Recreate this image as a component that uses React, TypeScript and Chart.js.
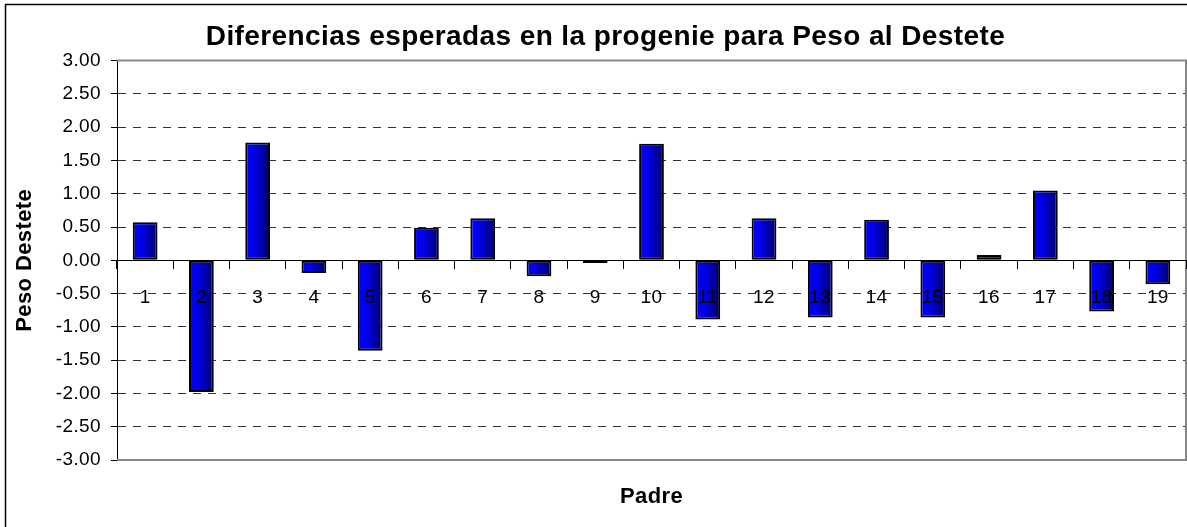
import React, { useEffect, useRef } from 'react';
import { Chart, registerables } from 'chart.js';

Chart.register(...registerables);

const titulo = 'Diferencias esperadas en la progenie para Peso al Destete';
const tituloY = 'Peso Destete';
const tituloX = 'Padre';
const padres = ['1', '2', '3', '4', '5', '6', '7', '8', '9', '10', '11', '12', '13', '14', '15', '16', '17', '18', '19'];
const valores = [0.57, -1.98, 1.77, -0.19, -1.36, 0.49, 0.63, -0.24, -0.04, 1.75, -0.89, 0.63, -0.86, 0.61, -0.86, 0.08, 1.05, -0.77, -0.36];
const yMin = -3;
const yMax = 3;
const yStep = 0.5;

const FONT = "'Liberation Sans', Arial, sans-serif";
const BAR_PCT = 0.44;

export default function App() {
  const ref = useRef<HTMLCanvasElement>(null);

  useEffect(() => {
    const canvas = ref.current;
    if (!canvas) return;

    const spacing = {
      id: 'spacing',
      beforeUpdate(c: any) { c.ctx.letterSpacing = '0.4px'; },
      beforeDraw(c: any) { c.ctx.letterSpacing = '0.4px'; },
      afterDraw(c: any) { c.ctx.letterSpacing = '0px'; },
    };

    const frame = {
      id: 'frame',
      beforeDatasetsDraw(c: any) {
        const { ctx, chartArea: a } = c;
        ctx.save();
        ctx.strokeStyle = '#878787';
        ctx.lineWidth = 2;
        ctx.beginPath();
        ctx.moveTo(a.left, a.top);
        ctx.lineTo(a.right, a.top);
        ctx.lineTo(a.right, a.bottom);
        ctx.lineTo(a.left, a.bottom);
        ctx.stroke();
        ctx.restore();
      },
      afterDraw(c: any) {
        const { ctx } = c;
        ctx.save();
        ctx.strokeStyle = '#000';
        ctx.lineWidth = 1.5;
        ctx.strokeRect(5.5, 4.5, 1400, 1000);
        ctx.restore();
      },
    };

    const chart = new Chart(canvas, {
      type: 'bar',
      data: {
        labels: padres,
        datasets: [
          {
            data: valores,
            xAxisID: 'x',
            yAxisID: 'y',
            categoryPercentage: 1,
            barPercentage: BAR_PCT,
            borderColor: '#000',
            borderWidth: 2,
            borderSkipped: false,
            backgroundColor: (c: any) => {
              const ch = c.chart;
              const xs = ch.scales && ch.scales.x;
              if (!ch.chartArea || !xs || c.dataIndex === undefined) return '#0000c0';
              const center = xs.getPixelForValue(c.dataIndex);
              const half = (xs.width / padres.length) * BAR_PCT / 2;
              const g = ch.ctx.createLinearGradient(center - half, 0, center + half, 0);
              g.addColorStop(0, '#0000ff');
              g.addColorStop(0.35, '#0000ea');
              g.addColorStop(1, '#000068');
              return g;
            },
          },
        ],
      },
      options: {
        responsive: false,
        animation: false,
        devicePixelRatio: 1,
        layout: { padding: 0 },
        plugins: {
          legend: { display: false },
          tooltip: { enabled: false },
          title: {
            display: true,
            text: titulo,
            color: '#000',
            font: { family: FONT, size: 28, weight: 'bold' },
            padding: { top: 20, bottom: 7 },
          },
        },
        scales: {
          x: {
            type: 'category',
            position: { y: 0 },
            offset: true,
            grid: {
              display: true,
              drawOnChartArea: false,
              drawTicks: true,
              tickLength: 8,
              color: '#000',
              tickColor: '#000',
              tickBorderDash: [],
              offset: true,
              z: 1,
            },
            border: { display: true, color: '#000', width: 1, z: 1 },
            ticks: {
              color: '#000',
              font: { family: FONT, size: 19 },
              padding: 18,
              maxRotation: 0,
              minRotation: 0,
              autoSkip: false,
              z: 1,
            },
            afterFit: (s: any) => { s.height = 0; },
          },
          x2: {
            type: 'category',
            position: 'bottom',
            offset: true,
            grid: { display: false },
            border: { display: false },
            ticks: { display: false },
            title: {
              display: true,
              text: tituloX,
              color: '#000',
              font: { family: FONT, size: 22, weight: 'bold' },
              padding: { top: 0, bottom: 17 },
            },
            afterFit: (s: any) => { s.height = 67; },
          },
          y: {
            type: 'linear',
            position: 'left',
            min: yMin,
            max: yMax,
            grid: {
              color: (c: any) => (c.tick && Math.abs(c.tick.value) === 3 ? 'rgba(0,0,0,0)' : '#333'),
              tickColor: '#000',
              tickLength: 6,
              tickBorderDash: [],
              lineWidth: 1,
            },
            border: { display: true, color: '#000', width: 1, dash: [8, 7] },
            ticks: {
              stepSize: yStep,
              color: '#000',
              font: { family: FONT, size: 19 },
              padding: 10,
              callback: (v: any) => Number(v).toFixed(2),
            },
            title: {
              display: true,
              text: tituloY,
              color: '#000',
              font: { family: FONT, size: 22, weight: 'bold' },
              padding: { top: 12, bottom: 0 },
            },
            afterFit: (s: any) => { s.width = 117; },
          },
          yr: {
            type: 'linear',
            position: 'right',
            display: true,
            grid: { display: false },
            border: { display: false },
            ticks: { display: false },
            afterFit: (s: any) => { s.width = 25; },
          },
        },
      } as any,
      plugins: [spacing, frame],
    });

    return () => chart.destroy();
  }, []);

  return (
    <div style={{ position: 'absolute', left: 0, top: 0, width: 1187, height: 527, overflow: 'hidden', background: '#fff' }}>
      <canvas ref={ref} width={1211} height={527} style={{ display: 'block' }} />
    </div>
  );
}
